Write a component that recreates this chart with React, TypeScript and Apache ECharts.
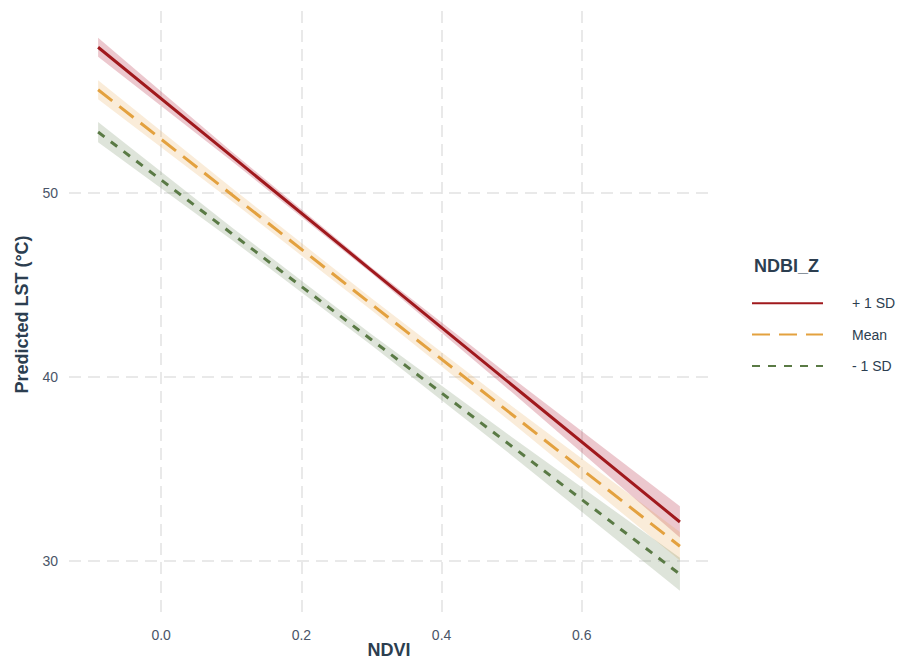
import React, { useEffect, useRef } from "react";
import * as echarts from "echarts";

const ndvi = [-0.09, 0.1, 0.3, 0.5, 0.74];
const plusFit = [57.93, 52.02, 45.8, 39.58, 32.12];
const plusCI = [0.52, 0.26, 0.16, 0.4, 0.85];
const meanCI = [0.52, 0.36, 0.33, 0.45, 0.78];
const meanFit = [55.62, 49.94, 43.96, 37.98, 30.8];
const minusFit = [53.32, 47.82, 42.03, 36.24, 29.28];
const minusCI = [0.55, 0.34, 0.3, 0.5, 0.9];

const groupNames = ["+ 1 SD", "Mean", "- 1 SD"];
const xTicks = [0, 0.2, 0.4, 0.6];
const yTicks = [30, 40, 50];

const lineColors = ["#a0191d", "#e3a13f", "#5a7a45"];
const ribbonColors = ["rgba(178, 34, 60, 0.25)", "rgba(228, 160, 65, 0.2)", "rgba(90, 122, 69, 0.2)"];
const dashes: any[] = ["solid", [18, 9], [8, 8]];

const FONT = "Liberation Sans, Arial, sans-serif";

export default function App() {
  const ref = useRef<HTMLDivElement>(null);
  useEffect(() => {
    document.body.style.margin = "0";
    if (!ref.current) return;
    const chart = echarts.init(ref.current, undefined, { renderer: "svg" });
    const fits = [plusFit, meanFit, minusFit];
    const cis = [plusCI, meanCI, minusCI];
    const series: any[] = [];
    fits.forEach((fit, g) => {
      const ci = cis[g];
      series.push({
        type: "custom",
        name: "band" + g,
        data: ndvi.map((x, i) => [x, fit[i] - ci[i], fit[i] + ci[i]]),
        encode: { x: 0, y: [1, 2] },
        silent: true,
        z: 1,
        renderItem: (params: any, api: any) => {
          if (params.dataIndex !== 0) return { type: "group", children: [] };
          const pts: number[][] = [];
          for (let i = 0; i < ndvi.length; i++) pts.push(api.coord([ndvi[i], fit[i] - ci[i]]));
          for (let i = ndvi.length - 1; i >= 0; i--) pts.push(api.coord([ndvi[i], fit[i] + ci[i]]));
          return { type: "polygon", shape: { points: pts }, style: { fill: ribbonColors[g], stroke: "none" } };
        },
      });
    });
    fits.forEach((fit, g) => {
      series.push({
        type: "line",
        name: groupNames[g],
        data: ndvi.map((x, i) => [x, fit[i]]),
        symbol: "none",
        itemStyle: { color: lineColors[g] },
        lineStyle: { color: lineColors[g], width: 3, type: dashes[g] },
        z: 3,
      });
    });

    chart.setOption({
      animation: false,
      backgroundColor: "#ffffff",
      textStyle: { fontFamily: FONT },
      grid: { left: 69, right: 203, top: 11, bottom: 42, outerBoundsMode: "none", containLabel: false },
      xAxis: {
        type: "value",
        min: -0.1315,
        max: 0.7815,
        name: "NDVI",
        nameLocation: "middle",
        nameGap: 23,
        nameMoveOverlap: false,
        nameTextStyle: { fontSize: 18, lineHeight: 18, fontWeight: "bold", color: "#2c3e50", fontFamily: FONT },
        axisLine: { show: false },
        axisTick: { show: false, customValues: xTicks },
        axisLabel: {
          customValues: xTicks,
          formatter: (v: number) => v.toFixed(1),
          color: "#4a5568",
          fontSize: 14,
          margin: 10,
          fontFamily: FONT,
        },
        splitLine: { show: true, lineStyle: { color: "#e2e2e2", width: 1.5, type: [12, 7] } },
      },
      yAxis: {
        type: "value",
        min: 26.9,
        max: 59.9,
        name: "Predicted LST (°C)",
        nameLocation: "middle",
        nameGap: 38,
        nameTextStyle: { fontSize: 18, fontWeight: "bold", color: "#2c3e50", fontFamily: FONT },
        axisLine: { show: false },
        axisTick: { show: false, customValues: yTicks },
        axisLabel: {
          customValues: yTicks,
          color: "#4a5568",
          fontSize: 14,
          margin: 11,
          fontFamily: FONT,
        },
        splitLine: { show: true, lineStyle: { color: "#e2e2e2", width: 1.5, type: [12, 7] } },
      },
      legend: {
        data: groupNames,
        orient: "vertical",
        left: 746,
        top: 291,
        itemWidth: 71,
        itemHeight: 18,
        itemGap: 17,
        itemStyle: { opacity: 0 },
        textStyle: { fontSize: 14, color: "#2c3e50", fontFamily: FONT, padding: [0, 0, 0, 24] },
        selectedMode: false,
      },
      graphic: [
        {
          type: "text",
          left: 754,
          top: 257,
          style: { text: "NDBI_Z", fontSize: 18, fontWeight: "bold", fill: "#2c3e50", fontFamily: FONT },
        },
      ],
      series,
    });
    return () => chart.dispose();
  }, []);
  return <div ref={ref} style={{ width: 912, height: 660 }} />;
}
